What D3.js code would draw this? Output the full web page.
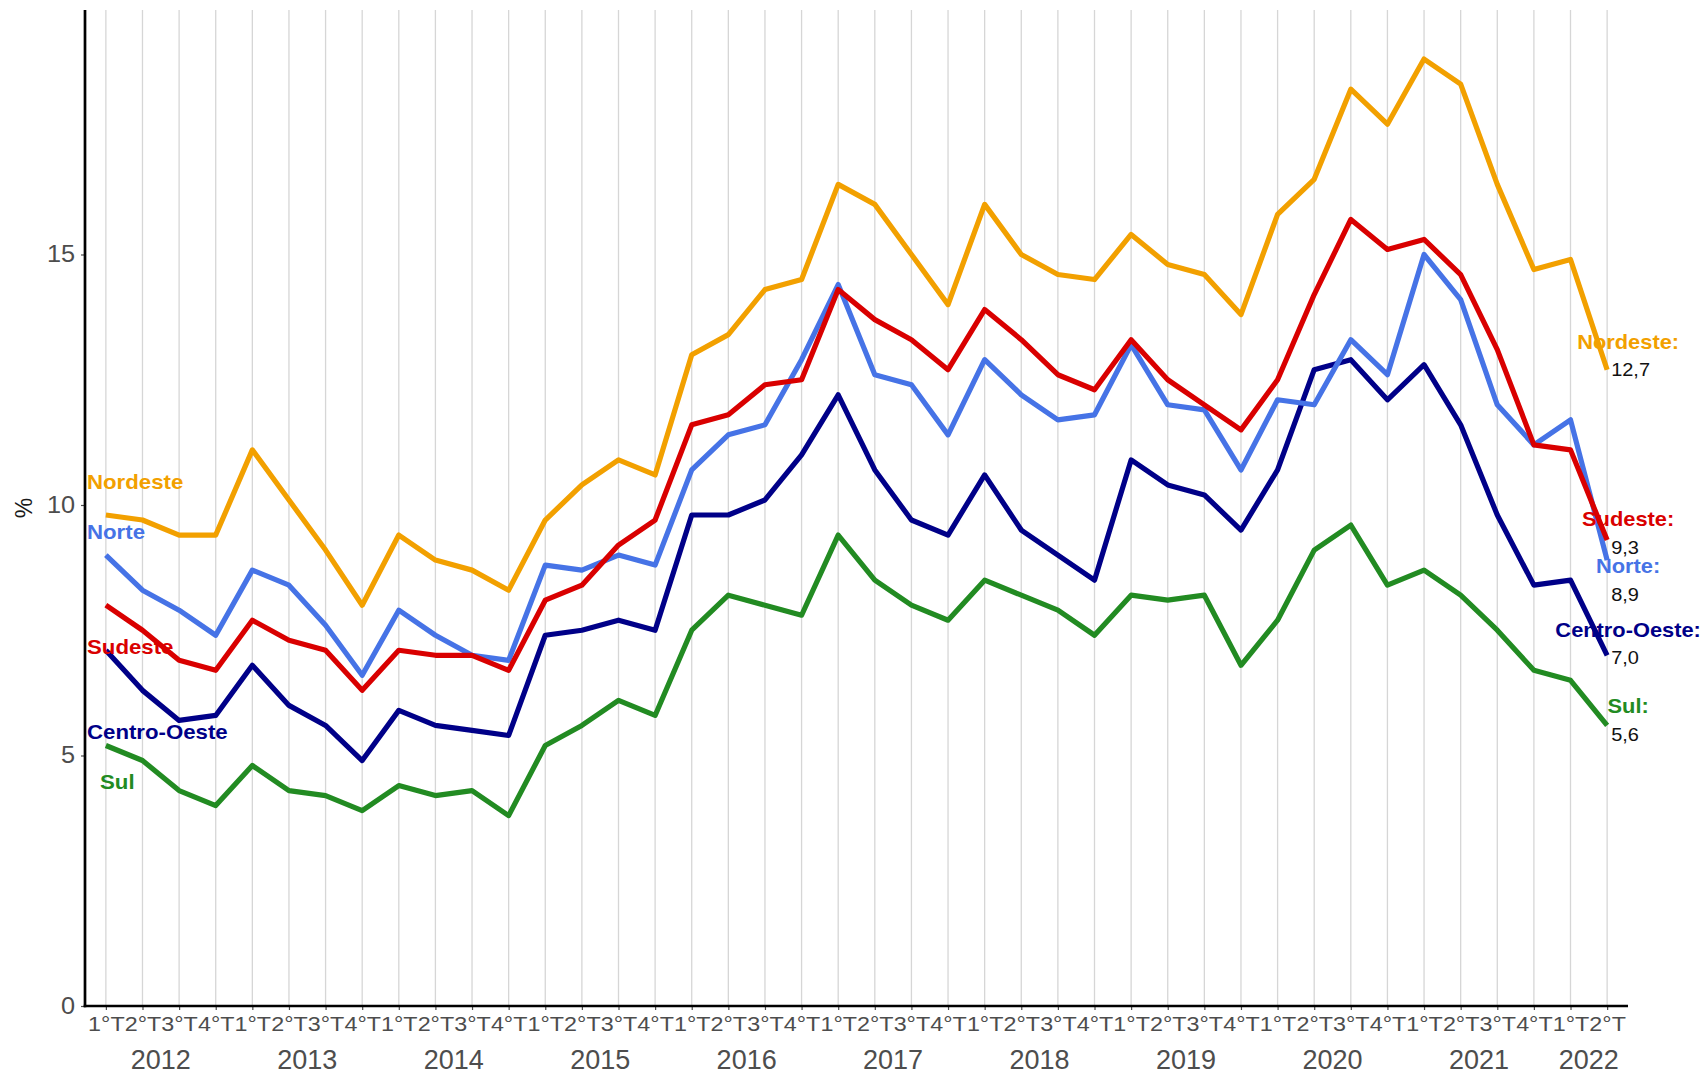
<!DOCTYPE html>
<html>
<head>
<meta charset="utf-8">
<script src="https://cdn.jsdelivr.net/npm/d3@7"></script>
<style>
  html, body { margin: 0; padding: 0; background: #fff; }
  svg { display: block; font-family: "Liberation Sans", Arial, sans-serif; }
</style>
</head>
<body>
<svg id="chart" width="1705" height="1075"></svg>
<script>
// ---- data ----
const years = [2012, 2013, 2014, 2015, 2016, 2017, 2018, 2019, 2020, 2021, 2022];
const quarterLabels = ["1°T", "2°T", "3°T", "4°T"];
const periods = [];
years.forEach(yr => quarterLabels.forEach((q, qi) => {
  if (yr < 2022 || qi < 2) periods.push({ year: yr, q: q, key: yr + "-" + (qi + 1) });
}));

const regions = ["Nordeste", "Sudeste", "Norte", "Centro-Oeste", "Sul"];

const nordeste = [9.8, 9.7, 9.4, 9.4, 11.1, 10.1, 9.1, 8.0, 9.4, 8.9, 8.7, 8.3, 9.7, 10.4, 10.9, 10.6, 13.0, 13.4, 14.3, 14.5, 16.4, 16.0, 15.0, 14.0, 16.0, 15.0, 14.6, 14.5, 15.4, 14.8, 14.6, 13.8, 15.8, 16.5, 18.3, 17.6, 18.9, 18.4, 16.4, 14.7, 14.9, 12.7];
const sudeste  = [8.0, 7.5, 6.9, 6.7, 7.7, 7.3, 7.1, 6.3, 7.1, 7.0, 7.0, 6.7, 8.1, 8.4, 9.2, 9.7, 11.6, 11.8, 12.4, 12.5, 14.3, 13.7, 13.3, 12.7, 13.9, 13.3, 12.6, 12.3, 13.3, 12.5, 12.0, 11.5, 12.5, 14.2, 15.7, 15.1, 15.3, 14.6, 13.1, 11.2, 11.1, 9.3];
const norte    = [9.0, 8.3, 7.9, 7.4, 8.7, 8.4, 7.6, 6.6, 7.9, 7.4, 7.0, 6.9, 8.8, 8.7, 9.0, 8.8, 10.7, 11.4, 11.6, 12.9, 14.4, 12.6, 12.4, 11.4, 12.9, 12.2, 11.7, 11.8, 13.2, 12.0, 11.9, 10.7, 12.1, 12.0, 13.3, 12.6, 15.0, 14.1, 12.0, 11.2, 11.7, 8.9];
const centroOeste = [7.1, 6.3, 5.7, 5.8, 6.8, 6.0, 5.6, 4.9, 5.9, 5.6, 5.5, 5.4, 7.4, 7.5, 7.7, 7.5, 9.8, 9.8, 10.1, 11.0, 12.2, 10.7, 9.7, 9.4, 10.6, 9.5, 9.0, 8.5, 10.9, 10.4, 10.2, 9.5, 10.7, 12.7, 12.9, 12.1, 12.8, 11.6, 9.8, 8.4, 8.5, 7.0];
const sul      = [5.2, 4.9, 4.3, 4.0, 4.8, 4.3, 4.2, 3.9, 4.4, 4.2, 4.3, 3.8, 5.2, 5.6, 6.1, 5.8, 7.5, 8.2, 8.0, 7.8, 9.4, 8.5, 8.0, 7.7, 8.5, 8.2, 7.9, 7.4, 8.2, 8.1, 8.2, 6.8, 7.7, 9.1, 9.6, 8.4, 8.7, 8.2, 7.5, 6.7, 6.5, 5.6];
const yTicks = [0, 5, 10, 15];

// ---- layout / style (not data) ----
const seriesValues = [nordeste, sudeste, norte, centroOeste, sul];
const colors = ["#F2A000", "#D90000", "#4673E6", "#000088", "#228B22"];
const startLabelY = [10.46, 7.17, 9.46, 5.47, 4.47];
const startLabelDX = [0, 0, 0, 0, 13];
const endNudge = [0, -0.14, -0.68, -0.05, -0.17];

(function () {
const svg = d3.select("#chart");
const mLeft = 85, mRight = 1628, mTop = 10, mBottom = 1006;

const x = d3.scalePoint().domain(periods.map(p => p.key)).range([mLeft, mRight]).padding(0.57);
const y = d3.scaleLinear().domain([0, 19.88]).range([mBottom, mTop]);

// vertical gridlines
svg.append("g").selectAll("line").data(periods).join("line")
  .attr("x1", d => x(d.key)).attr("x2", d => x(d.key))
  .attr("y1", mTop).attr("y2", mBottom)
  .attr("stroke", "#d6d6d6").attr("stroke-width", 1.3);

// lines
const line = d3.line().x((d, i) => x(periods[i].key)).y(d => y(d));
const order = [4, 3, 2, 1, 0];
order.forEach(si => {
  svg.append("path").datum(seriesValues[si])
    .attr("d", line)
    .attr("fill", "none")
    .attr("stroke", colors[si])
    .attr("stroke-width", 5.2)
    .attr("stroke-linejoin", "round")
    .attr("stroke-linecap", "butt");
});

// axes
const yAxis = svg.append("g").attr("transform", `translate(${mLeft},0)`)
  .call(d3.axisLeft(y).tickValues(yTicks).tickSize(4).tickPadding(6).tickFormat(d3.format("d")));
yAxis.select(".domain").remove();
yAxis.selectAll(".tick line").attr("stroke", "#4d4d4d").attr("stroke-width", 1.2);
yAxis.selectAll(".tick text").attr("fill", "#4d4d4d").style("font-size", "23px")
  .attr("transform", "translate(-10,0) scale(1.1,1) translate(10,0)")
  .style("font-family", "'Liberation Sans', Arial, sans-serif");

const xAxis = svg.append("g").attr("transform", `translate(0,${mBottom})`)
  .call(d3.axisBottom(x).tickSize(4).tickPadding(6).tickFormat(k => periods.find(p => p.key === k).q));
xAxis.select(".domain").remove();
xAxis.selectAll(".tick line").attr("stroke", "#4d4d4d").attr("stroke-width", 1.2);
xAxis.selectAll(".tick text").attr("fill", "#4d4d4d").style("font-size", "21px")
  .attr("transform", "scale(1.11,1)")
  .style("font-family", "'Liberation Sans', Arial, sans-serif");

// axis lines
svg.append("line").attr("x1", mLeft).attr("x2", mLeft).attr("y1", mTop).attr("y2", mBottom + 1.3)
  .attr("stroke", "#000").attr("stroke-width", 2.7);
svg.append("line").attr("x1", mLeft - 1.3).attr("x2", mRight).attr("y1", mBottom).attr("y2", mBottom)
  .attr("stroke", "#000").attr("stroke-width", 2.7);

// year labels
years.forEach(yr => {
  const ps = periods.filter(p => p.year === yr);
  const cx = (x(ps[0].key) + x(ps[ps.length - 1].key)) / 2;
  svg.append("text").attr("x", cx).attr("y", 1059).attr("dy", "0.36em")
    .attr("text-anchor", "middle").attr("fill", "#4d4d4d")
    .style("font-size", "27px").text(yr);
});

// y title
svg.append("text").attr("transform", `translate(24,${(mTop + mBottom) / 2}) rotate(-90)`)
  .attr("text-anchor", "middle").attr("dy", "0.36em").attr("fill", "#1a1a1a")
  .style("font-size", "23px").text("%");

function stretchText(px, py, txt, opts) {
  const g = svg.append("g").attr("transform", `translate(${px},${py}) scale(${opts.sx || 1},1)`);
  g.append("text").attr("x", 0).attr("y", 0).attr("dy", "0.36em")
    .attr("text-anchor", opts.anchor || "start")
    .attr("fill", opts.color)
    .style("font-size", opts.size + "px")
    .style("font-weight", opts.weight || "normal")
    .text(txt);
}

// start labels
regions.forEach((r, i) => {
  stretchText(87 + startLabelDX[i], y(startLabelY[i]), r,
    { color: colors[i], size: 19.5, weight: "bold", sx: 1.14 });
});

// end labels
const lastKey = periods[periods.length - 1].key;
regions.forEach((r, i) => {
  const v = seriesValues[i][seriesValues[i].length - 1];
  const vy = y(v + endNudge[i]);
  stretchText(x(lastKey) + 21, vy - 28, r + ":",
    { color: colors[i], size: 19.5, weight: "bold", sx: 1.12, anchor: "middle" });
  stretchText(x(lastKey) + 4, vy, d3.format(".1f")(v).replace(".", ","),
    { color: "#111", size: 18.5, sx: 1.08 });
});
})();
</script>
</body>
</html>
